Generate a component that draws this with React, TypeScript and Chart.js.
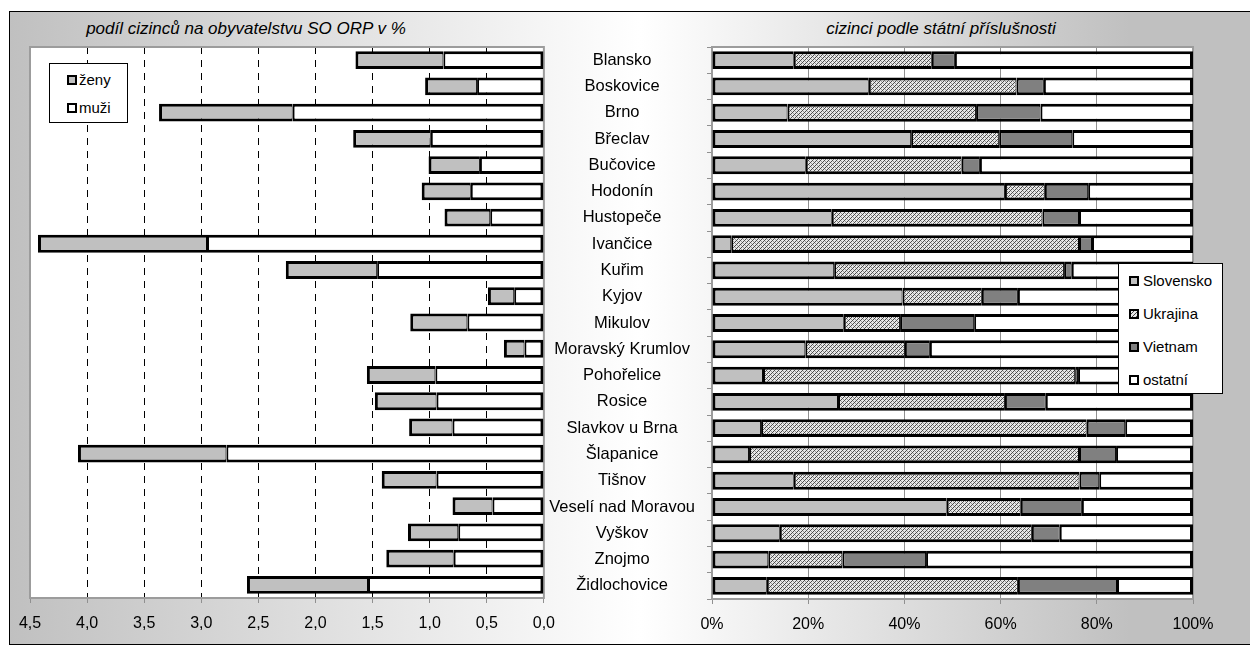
import React, { useEffect, useRef } from 'react';
import { Chart, registerables } from 'chart.js';

Chart.register(...registerables);

const FONT = '"Liberation Sans", Arial, sans-serif';

const categories = [
  'Blansko', 'Boskovice', 'Brno', 'Břeclav', 'Bučovice', 'Hodonín', 'Hustopeče',
  'Ivančice', 'Kuřim', 'Kyjov', 'Mikulov', 'Moravský Krumlov', 'Pohořelice', 'Rosice',
  'Slavkov u Brna', 'Šlapanice', 'Tišnov', 'Veselí nad Moravou', 'Vyškov', 'Znojmo', 'Židlochovice',
];

// podíl cizinců na obyvatelstvu (%)
const muzi = [0.88, 0.585, 2.2, 0.99, 0.56, 0.64, 0.47, 2.95, 1.46, 0.26, 0.67, 0.17, 0.95, 0.94, 0.8, 2.78, 0.94, 0.45, 0.75, 0.79, 1.54];
const zeny = [0.77, 0.455, 1.17, 0.68, 0.45, 0.43, 0.4, 1.48, 0.8, 0.23, 0.5, 0.18, 0.6, 0.54, 0.38, 1.3, 0.48, 0.35, 0.44, 0.59, 1.06];

// cizinci podle státní příslušnosti (%)
const slovensko = [17.0, 32.6, 15.7, 41.4, 19.5, 60.9, 24.9, 4.0, 25.4, 39.6, 27.4, 19.4, 10.6, 26.2, 10.2, 7.7, 17.0, 48.8, 14.1, 11.7, 11.4];
const ukrajina = [28.7, 30.7, 39.2, 18.3, 32.4, 8.3, 43.8, 72.3, 47.8, 16.5, 11.7, 20.7, 64.9, 34.7, 67.7, 68.6, 59.4, 15.4, 52.4, 15.4, 52.2];
const vietnam = [4.8, 5.7, 13.4, 15.2, 3.8, 9.0, 7.6, 2.7, 1.6, 7.5, 15.4, 5.2, 0.6, 8.5, 8.0, 7.7, 4.1, 12.7, 5.8, 17.4, 20.6];
const ostatni = [49.5, 31.0, 31.7, 25.1, 44.3, 21.8, 23.7, 21.0, 25.2, 36.4, 45.5, 54.7, 23.9, 30.6, 14.1, 16.0, 19.5, 23.1, 27.7, 55.5, 15.8];

const leftTitle = 'podíl cizinců na obyvatelstvu SO ORP v %';
const rightTitle = 'cizinci podle státní příslušnosti';

const plotArea = {
  id: 'plotArea',
  beforeDraw(chart: any) {
    const { ctx, chartArea: a } = chart;
    ctx.save();
    ctx.fillStyle = '#ffffff';
    ctx.fillRect(a.left, a.top, a.right - a.left, a.bottom - a.top);
    ctx.restore();
  },
  beforeDatasetsDraw(chart: any) {
    const { ctx, chartArea: a } = chart;
    ctx.save();
    ctx.strokeStyle = '#9c9c9c';
    ctx.lineWidth = 2;
    ctx.strokeRect(a.left, a.top, a.right - a.left, a.bottom - a.top);
    ctx.restore();
  },
};

function makeHatch(target: CanvasRenderingContext2D) {
  const c = document.createElement('canvas');
  c.width = 4;
  c.height = 4;
  const g = c.getContext('2d') as CanvasRenderingContext2D;
  g.fillStyle = '#e8e8e8';
  g.fillRect(0, 0, 4, 4);
  g.fillStyle = '#4a4a4a';
  for (let i = 0; i < 4; i++) g.fillRect(i, 3 - i, 1, 1);
  g.fillStyle = '#9a9a9a';
  g.fillRect(2, 3, 1, 1);
  g.fillRect(0, 1, 1, 1);
  return target.createPattern(c, 'repeat') as CanvasPattern;
}

const barCommon = {
  borderColor: '#000000',
  borderSkipped: false as const,
  barPercentage: 0.68,
  categoryPercentage: 1,
};

export default function App() {
  const leftRef = useRef<HTMLCanvasElement>(null);
  const rightRef = useRef<HTMLCanvasElement>(null);

  useEffect(() => {
    Chart.defaults.font.family = FONT;
    Chart.defaults.color = '#000';
    const lc = leftRef.current as HTMLCanvasElement;
    const rc = rightRef.current as HTMLCanvasElement;

    const left = new Chart(lc, {
      type: 'bar',
      data: {
        labels: categories,
        datasets: [
          { label: 'muži', data: muzi, backgroundColor: '#ffffff', borderWidth: { top: 3, bottom: 3, right: 3, left: 2 }, ...barCommon },
          { label: 'ženy', data: zeny, backgroundColor: '#c0c0c0', borderWidth: { top: 3, bottom: 3, right: 1, left: 3 }, ...barCommon },
        ],
      },
      options: {
        indexAxis: 'y',
        responsive: false,
        animation: false,
        events: [],
        layout: { padding: { left: 30, right: 15, top: 47, bottom: 0 } },
        plugins: { legend: { display: false }, tooltip: { enabled: false }, title: { display: false } },
        scales: {
          y: { type: 'category', stacked: true, display: false },
          x: {
            type: 'linear',
            reverse: true,
            stacked: true,
            min: 0,
            max: 4.5,
            ticks: {
              stepSize: 0.5,
              color: '#000',
              font: { size: 16 },
              padding: 11,
              maxRotation: 0,
              callback: (v: any) => Number(v).toFixed(1).replace('.', ','),
            },
            grid: {
              color: (ctx: any) =>
                ctx.tick && (Math.abs(ctx.tick.value) < 1e-9 || Math.abs(ctx.tick.value - 4.5) < 1e-9)
                  ? 'rgba(0,0,0,0)'
                  : '#000000',
              lineWidth: 1,
              borderDash: [7, 6],
              tickColor: '#909090',
              tickLength: 5,
              tickBorderDash: [],
            } as any,
            border: { display: false, dash: [7, 6] },
            afterFit: (s: any) => {
              s.height = 47;
            },
          } as any,
        },
      },
      plugins: [plotArea],
    } as any);

    const hatch = makeHatch(rc.getContext('2d') as CanvasRenderingContext2D);

    const right = new Chart(rc, {
      type: 'bar',
      data: {
        labels: categories,
        datasets: [
          { label: 'Slovensko', data: slovensko, backgroundColor: '#c0c0c0', borderWidth: { top: 3, bottom: 3, left: 3, right: 1 }, ...barCommon },
          { label: 'Ukrajina', data: ukrajina, backgroundColor: hatch, borderWidth: { top: 3, bottom: 3, left: 2, right: 1 }, ...barCommon },
          { label: 'Vietnam', data: vietnam, backgroundColor: '#808080', borderWidth: { top: 3, bottom: 3, left: 2, right: 1 }, ...barCommon },
          { label: 'ostatní', data: ostatni, backgroundColor: '#ffffff', borderWidth: { top: 3, bottom: 3, left: 2, right: 3 }, ...barCommon },
        ],
      },
      options: {
        indexAxis: 'y',
        responsive: false,
        animation: false,
        events: [],
        layout: { padding: { left: 0, right: 57, top: 47, bottom: 0 } },
        plugins: { legend: { display: false }, tooltip: { enabled: false }, title: { display: false } },
        scales: {
          y: {
            type: 'category',
            stacked: true,
            ticks: { crossAlign: 'center', color: '#000', font: { size: 16.5 }, padding: 12, autoSkip: false },
            grid: { offset: true, drawOnChartArea: false, tickLength: 5, color: '#909090', tickColor: '#909090' },
            border: { display: false },
            afterFit: (s: any) => {
              s.width = 167;
            },
          },
          x: {
            type: 'linear',
            stacked: true,
            min: 0,
            max: 100,
            ticks: {
              stepSize: 20,
              color: '#000',
              font: { size: 16 },
              padding: 11,
              maxRotation: 0,
              callback: (v: any) => v + '%',
            },
            grid: {
              color: (ctx: any) =>
                ctx.tick && (ctx.tick.value === 0 || ctx.tick.value === 100) ? 'rgba(0,0,0,0)' : '#909090',
              tickColor: '#909090',
              tickLength: 5,
            },
            border: { display: false },
            afterFit: (s: any) => {
              s.height = 46;
            },
          },
        } as any,
      },
      plugins: [plotArea],
    } as any);

    return () => {
      left.destroy();
      right.destroy();
    };
  }, []);

  const marker = (bg: string) => ({
    position: 'absolute' as const,
    width: 10,
    height: 10,
    boxSizing: 'border-box' as const,
    border: '2px solid #000',
    background: bg,
  });
  const hatchCss = 'repeating-linear-gradient(-45deg, #4a4a4a 0px, #4a4a4a 1px, #e8e8e8 1px, #e8e8e8 3px)';

  const rightItems: [string, string, number][] = [
    ['Slovensko', '#c0c0c0', 17],
    ['Ukrajina', hatchCss, 50],
    ['Vietnam', '#808080', 83],
    ['ostatní', '#ffffff', 116],
  ];
  const leftItems: [string, string, number][] = [
    ['ženy', '#c0c0c0', 16],
    ['muži', '#ffffff', 44],
  ];

  return (
    <div style={{ position: 'absolute', left: 0, top: 0, width: 1250, height: 645, overflow: 'hidden', background: '#fff', fontFamily: FONT }}>
      <div
        style={{
          position: 'absolute',
          left: 9,
          top: 11,
          width: 1260,
          height: 632,
          border: '1px solid #000',
          background: 'linear-gradient(to right, #c0c0c0 0px, #ffffff 630px, #c0c0c0 1120px)',
        }}
      />
      <div style={{ position: 'absolute', left: 46, top: 18, width: 400, textAlign: 'center', fontSize: 17, fontStyle: 'italic', lineHeight: '22px', color: '#000' }}>
        {leftTitle}
      </div>
      <div style={{ position: 'absolute', left: 741, top: 18, width: 400, textAlign: 'center', fontSize: 17, fontStyle: 'italic', lineHeight: '22px', color: '#000' }}>
        {rightTitle}
      </div>
      <canvas ref={leftRef} width={566} height={645} style={{ position: 'absolute', left: 0, top: 0, width: 566, height: 645 }} />
      <canvas ref={rightRef} width={705} height={645} style={{ position: 'absolute', left: 545, top: 0, width: 705, height: 645 }} />
      <div style={{ position: 'absolute', left: 49, top: 63, width: 79, height: 60, boxSizing: 'border-box', border: '1px solid #000', background: '#fff' }}>
        {leftItems.map(([t, c, y]) => (
          <React.Fragment key={t}>
            <div style={{ ...marker(c), left: 17, top: y - 5 }} />
            <div style={{ position: 'absolute', left: 29, top: y - 10, fontSize: 15, lineHeight: '20px', color: '#000' }}>{t}</div>
          </React.Fragment>
        ))}
      </div>
      <div style={{ position: 'absolute', left: 1118, top: 263, width: 105, height: 131, boxSizing: 'border-box', border: '1px solid #000', background: '#fff' }}>
        {rightItems.map(([t, c, y]) => (
          <React.Fragment key={t}>
            <div style={{ ...marker(c), left: 10, top: y - 5 }} />
            <div style={{ position: 'absolute', left: 24, top: y - 10, fontSize: 15, lineHeight: '20px', color: '#000' }}>{t}</div>
          </React.Fragment>
        ))}
      </div>
    </div>
  );
}
